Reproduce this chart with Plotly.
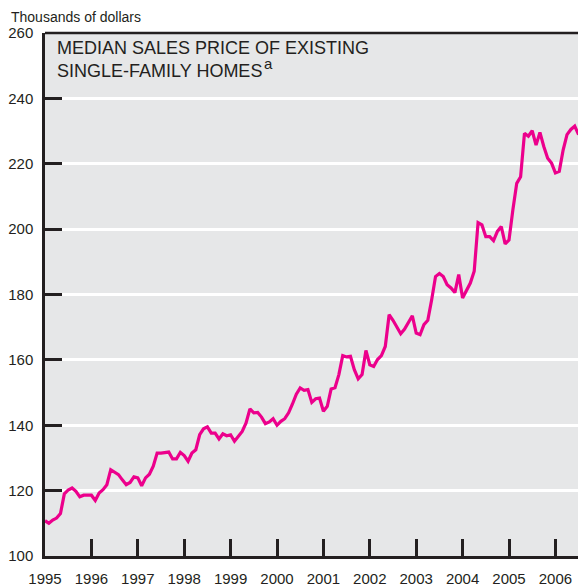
import plotly.graph_objects as go

# Monthly median sales price of existing single-family homes (thousands of dollars), Jan 1995 onward
start_year = 1995
prices = [
    # 1995
    110.8, 110.0, 111.0, 111.6, 113.0, 119.0, 120.2, 120.8, 119.8, 118.1, 118.6, 118.6,
    # 1996
    118.6, 117.0, 119.3, 120.3, 121.8, 126.4, 125.7, 124.9, 123.3, 121.8, 122.5, 124.2,
    # 1997
    123.9, 121.5, 123.9, 125.0, 127.5, 131.5, 131.5, 131.6, 131.8, 129.7, 129.7, 131.7,
    # 1998
    130.7, 129.0, 131.5, 132.5, 137.1, 138.9, 139.5, 137.6, 137.6, 135.8, 137.4, 136.8,
    # 1999
    137.1, 135.1, 136.6, 138.1, 140.7, 145.0, 143.8, 143.9, 142.5, 140.5, 141.0, 142.0,
    # 2000
    140.0, 141.2, 142.0, 143.8, 146.5, 149.5, 151.4, 150.7, 150.9, 147.0, 148.1, 148.3,
    # 2001
    144.3, 145.8, 151.1, 151.5, 155.5, 161.3, 160.9, 161.1, 157.0, 154.2, 155.5, 162.9,
    # 2002
    158.5, 158.0, 160.1, 161.3, 164.1, 173.8, 172.1, 170.0, 168.0, 169.4, 171.5, 173.5,
    # 2003
    168.2, 167.7, 170.8, 172.1, 178.4, 185.5, 186.4, 185.5, 183.0, 182.0, 180.6, 186.1,
    # 2004
    178.9, 181.2, 183.5, 187.1, 202.0, 201.3, 197.7, 197.7, 196.5, 199.3, 200.8, 195.5,
    # 2005
    196.7, 205.9, 214.0, 216.0, 229.3, 228.4, 230.1, 225.7, 229.6, 225.3, 221.7, 220.2,
    # 2006
    217.2, 217.7, 224.2, 228.9, 230.5, 231.5, 228.9,
]
times = [start_year + i / 12 for i in range(len(prices))]

year_ticks = list(range(1995, 2007))
year_labels = [str(y) for y in year_ticks]
y_ticks = list(range(100, 261, 20))
y_labels = [str(v) for v in y_ticks]

DARK = "#231F20"
SANS = "Liberation Sans, Arial, sans-serif"

fig = go.Figure()
fig.add_trace(go.Scatter(
    x=times, y=prices, mode="lines",
    line=dict(color="#EC008C", width=3.2),
    hoverinfo="skip", showlegend=False,
))

fig.update_layout(
    width=578, height=587,
    margin=dict(l=45, r=0, t=33, b=31),
    paper_bgcolor="white",
    plot_bgcolor="#E6E7E8",
    xaxis=dict(
        range=[1995, 1995 + 533 / 46.4],
        tickvals=year_ticks, ticktext=year_labels,
        ticks="inside", ticklen=17, tickwidth=2.5, tickcolor=DARK,
        showline=True, linecolor=DARK, linewidth=2.5,
        showgrid=False, zeroline=False,
        tickfont=dict(family=SANS, size=15, color=DARK),
        ticklabelstandoff=7,
    ),
    yaxis=dict(
        range=[100, 260],
        tickvals=y_ticks, ticktext=y_labels,
        ticks="inside", ticklen=17, tickwidth=2.5, tickcolor=DARK,
        showline=True, linecolor=DARK, linewidth=2.5,
        showgrid=True, gridcolor="white", gridwidth=3,
        zeroline=False,
        tickfont=dict(family=SANS, size=15, color=DARK),
        ticklabelstandoff=6,
    ),
    shapes=[dict(type="line", xref="paper", yref="paper", x0=0, x1=1, y0=1, y1=1,
                 line=dict(color=DARK, width=2.5))],
    annotations=[
        dict(text="MEDIAN SALES PRICE OF EXISTING<br>SINGLE-FAMILY HOMES",
             xref="paper", yref="paper", x=10 / 533, y=1 - 3 / 522,
             xanchor="left", yanchor="top", align="left", showarrow=False,
             font=dict(family=SANS, size=18, color=DARK)),
        dict(text="a", xref="paper", yref="paper",
             x=(262 - 45) / 533, y=1 - (63 - 33) / 522,
             xanchor="left", yanchor="middle", showarrow=False,
             font=dict(family=SANS, size=15, color=DARK)),
        dict(text="Thousands of dollars", xref="paper", yref="paper",
             x=-36 / 533, y=1 + 16 / 522, xanchor="left", yanchor="middle",
             showarrow=False,
             font=dict(family=SANS, size=14, color=DARK)),
    ],
)

fig.write_html(
    "out.html",
    config={"displayModeBar": False},
    post_script="document.body.style.margin='0';document.body.style.overflow='hidden';",
)
